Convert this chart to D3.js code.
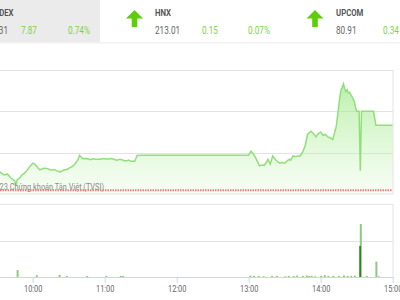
<!DOCTYPE html>
<html lang="vi">
<head>
<meta charset="UTF-8">
<title>VNINDEX intraday</title>
<script src="https://d3js.org/d3.v7.min.js"></script>
<style>
    body { margin: 0; background: #fff; font-family: Roboto, "Noto Sans", sans-serif; }
    svg { display: block; }
</style>
</head>
<body>
<div id="chart"></div>
<script>
    // Header boxes
    const indexNames = ["VNINDEX", "HNX", "UPCOM"];
    const indexValues = ["1071.31", "213.01", "80.91"];
    const indexChanges = ["7.87", "0.15", "0.34"];
    const indexPercents = ["0.74%", "0.07%", "0.42%"];

    // Intraday VNINDEX (minute, points)
    const priceTimes = ["09:15","09:20","09:25","09:30","09:33","09:36","09:39","09:42","09:45","09:46","09:47","09:49","09:51","09:53","09:55","09:58",
        "10:00","10:02","10:04","10:06","10:09","10:12","10:15","10:18","10:20","10:23","10:26","10:29","10:31","10:33","10:35","10:37","10:38","10:39","10:40","10:42","10:45","10:48","10:50","10:53","10:56","10:59",
        "11:02","11:05","11:07","11:10","11:13","11:16","11:18","11:20","11:22","11:25","11:26","11:27","11:29","11:30",
        "13:00","13:02","13:03","13:05","13:07","13:09","13:11","13:13","13:15","13:16","13:17","13:18","13:19","13:20","13:22","13:24","13:26","13:28","13:30","13:32","13:34","13:35","13:37","13:39","13:41","13:43","13:45","13:47","13:48","13:49","13:52","13:54","13:56","13:58",
        "14:00","14:02","14:04","14:06","14:08","14:10","14:11","14:13","14:14","14:15","14:16","14:17","14:18","14:19","14:20","14:21","14:22","14:23","14:24","14:26","14:27","14:28","14:29","14:30","14:32","14:33","14:34","14:44","14:46","15:00"];
    const priceValues = [1064.6,1065.3,1066.0,1065.8,1065.64,1065.3,1065.4,1064.9,1064.6,1064.0,1064.7,1064.9,1065.3,1065.5,1065.8,1066.4,
        1066.72,1066.6,1066.2,1065.92,1066.1,1066.08,1065.9,1065.95,1065.8,1065.68,1065.9,1066.0,1066.2,1066.32,1066.6,1067.0,1067.2,1067.68,1067.5,1067.28,1067.3,1067.15,1067.25,1067.2,1067.2,1067.3,
        1067.2,1067.28,1067.24,1067.1,1067.2,1067.05,1067.0,1067.1,1066.95,1066.96,1067.3,1067.68,1067.65,1067.7,
        1067.7,1068.2,1068.0,1067.6,1067.0,1066.4,1066.5,1066.48,1066.9,1067.2,1066.9,1066.6,1067.1,1067.6,1067.2,1066.9,1066.72,1066.8,1066.72,1067.0,1067.2,1067.1,1067.6,1067.5,1067.6,1067.6,1068.1,1068.8,1069.5,1070.2,1070.6,1070.3,1069.92,1070.3,
        1070.48,1070.1,1070.2,1069.9,1069.8,1069.6,1070.1,1071.2,1072.4,1073.6,1074.8,1075.6,1075.9,1076.32,1075.7,1075.4,1075.6,1075.2,1075.3,1074.8,1074.5,1074.2,1073.5,1073.0,1073.0,1065.8,1073.0,1073.0,1071.31,1071.31];
    const referencePrice = 1063.44;
    const priceTicks = [1063, 1068, 1073, 1078];

    // Matched volume (million shares)
    const volumeTimes = ["09:47","10:03","10:22","10:28","10:45","11:01","11:13","11:15",
        "13:01","13:04","13:08","13:12","13:19","13:23","13:30","13:33","13:37","13:40","13:45","13:48","13:50","13:52","13:55",
        "14:00","14:03","14:06","14:10","14:15","14:19","14:22","14:25","14:28","14:33","14:38","14:46","14:48"];
    const volumeValues = [1.9,0.5,0.6,0.3,0.3,0.3,0.3,0.3,
        0.4,0.3,0.3,0.2,0.3,0.3,0.2,0.3,0.3,0.4,0.3,0.4,0.3,0.3,0.2,
        0.3,0.5,0.3,0.3,0.3,0.4,0.3,0.3,0.4,14.5,0.3,4.2,0.2];
    const putThroughTimes = ["14:33"];
    const putThroughValues = [8.5];
    const volumeTicks = [0, 10, 20];
    const hourTicks = ["10:00","11:00","12:00","13:00","14:00","15:00"];

    const width = 400, height = 300;
    const parse = d3.timeParse("%H:%M");
    const squeeze = "scale(0.82,1)";

    const svg = d3.select("#chart").append("svg")
        .attr("width", width)
        .attr("height", height);

    // scales (plot starts at 09:00, left of the visible window)
    const x = d3.scaleTime()
        .domain([parse("09:00"), parse("15:00")])
        .range([-39.3, 392.7]);
    const y = d3.scaleLinear().domain([1063, 1078]).range([194, 70]);
    const yVol = d3.scaleLinear().domain([0, 20]).range([277, 204]);

    // ---- header ----
    svg.append("rect").attr("x", 0).attr("y", 0).attr("width", 100).attr("height", 42).attr("fill", "#ebebeb");
    svg.append("rect").attr("x", 0).attr("y", 42).attr("width", width).attr("height", 1.5).attr("fill", "#f1f1f1");

    function label(px, py, str, size, color, weight, anchor) {
        svg.append("text")
            .attr("transform", `translate(${px},${py}) ${squeeze}`)
            .attr("font-size", size)
            .attr("font-weight", weight || "normal")
            .attr("fill", color)
            .attr("text-anchor", anchor || "start")
            .text(str);
    }

    const boxes = [
        { nameX: 13.5, anchor: "end", valX: 8, chgX: 21, pctX: 68, arrow: null },
        { nameX: 155, anchor: "start", valX: 155, chgX: 202, pctX: 248, arrow: 134.5 },
        { nameX: 336, anchor: "start", valX: 336, chgX: 383, pctX: 429, arrow: 315 }
    ];
    const green = "#7ed33c";
    boxes.forEach((b, i) => {
        label(b.nameX, 15.5, indexNames[i], 9.5, "#555", "bold", b.anchor);
        label(b.valX, 34.3, indexValues[i], 10, "#666", "normal", b.anchor);
        label(b.chgX, 34.3, indexChanges[i], 10, green);
        label(b.pctX, 34.3, indexPercents[i], 10, green);
        if (b.arrow !== null) {
            const c = b.arrow;
            svg.append("path")
                .attr("d", `M${c},10 L${c + 8.5},18.5 L${c + 2.8},18.5 L${c + 2.8},27 L${c - 2.8},27 L${c - 2.8},18.5 L${c - 8.5},18.5 Z`)
                .attr("fill", "#5ccf0a");
        }
    });

    // ---- price chart ----
    const prices = priceTimes.map((t, i) => ({ t: parse(t), v: priceValues[i] }));

    svg.append("g")
        .selectAll("line")
        .data(priceTicks.slice(1))
        .join("line")
        .attr("x1", -40).attr("x2", 393)
        .attr("y1", d => Math.round(y(d)) + 0.5)
        .attr("y2", d => Math.round(y(d)) + 0.5)
        .attr("stroke", "#e3e3e3");

    const grad = svg.append("defs").append("linearGradient")
        .attr("id", "fillGrad")
        .attr("gradientUnits", "userSpaceOnUse")
        .attr("x1", 0).attr("x2", 0).attr("y1", 70).attr("y2", 194);
    grad.append("stop").attr("offset", "0%").attr("stop-color", "#9ee888").attr("stop-opacity", 0.8);
    grad.append("stop").attr("offset", "100%").attr("stop-color", "#c8f3b8").attr("stop-opacity", 0.15);

    svg.append("path")
        .datum(prices)
        .attr("fill", "url(#fillGrad)")
        .attr("d", d3.area().x(d => x(d.t)).y0(y(1063)).y1(d => y(d.v)));

    svg.append("path")
        .datum(prices)
        .attr("fill", "none")
        .attr("stroke", "#90e07a")
        .attr("stroke-width", 1.5)
        .attr("d", d3.line().x(d => x(d.t)).y(d => y(d.v)));

    svg.append("text")
        .attr("transform", `translate(104,189.5) ${squeeze}`)
        .attr("text-anchor", "end")
        .attr("font-size", 9)
        .attr("fill", "#8a8a8a")
        .text("© 2023 Chứng khoán Tân Việt (TVSI)");

    svg.append("line")
        .attr("x1", -40).attr("x2", 392.5)
        .attr("y1", y(referencePrice)).attr("y2", y(referencePrice))
        .attr("stroke", "#f07a7a")
        .attr("stroke-width", 2)
        .attr("stroke-dasharray", "1.5,1");

    // frame
    svg.append("rect")
        .attr("x", -40).attr("y", 70.5).attr("width", 433).attr("height", 123.5)
        .attr("fill", "none").attr("stroke", "#e3e3e3");

    // ---- volume chart ----
    svg.append("g")
        .selectAll("line")
        .data(volumeTicks.slice(1))
        .join("line")
        .attr("x1", -40).attr("x2", 393)
        .attr("y1", d => Math.round(yVol(d)) + 0.5)
        .attr("y2", d => Math.round(yVol(d)) + 0.5)
        .attr("stroke", "#e3e3e3");
    svg.append("line")
        .attr("x1", 393).attr("x2", 393).attr("y1", 204).attr("y2", 277)
        .attr("stroke", "#e3e3e3");

    const vols = volumeTimes.map((t, i) => ({ t: parse(t), v: volumeValues[i] }));
    svg.append("g")
        .selectAll("rect")
        .data(vols)
        .join("rect")
        .attr("x", d => x(d.t) - 0.5)
        .attr("width", 2)
        .attr("y", d => yVol(d.v))
        .attr("height", d => yVol(0) - yVol(d.v))
        .attr("fill", "#8fc97e");

    const puts = putThroughTimes.map((t, i) => ({ t: parse(t), v: putThroughValues[i] }));
    svg.append("g")
        .selectAll("rect")
        .data(puts)
        .join("rect")
        .attr("x", d => x(d.t) - 1)
        .attr("width", 1.6)
        .attr("y", d => yVol(d.v))
        .attr("height", d => yVol(0) - yVol(d.v))
        .attr("fill", "#1f7d12");

    const xAxis = svg.append("g")
        .attr("transform", `translate(0,${yVol(0)})`)
        .call(d3.axisBottom(x)
            .tickValues(hourTicks.map(parse))
            .tickFormat(d3.timeFormat("%H:%M"))
            .tickSize(6)
            .tickSizeOuter(0));
    xAxis.select(".domain").attr("stroke", "#ccd6eb");
    xAxis.selectAll(".tick line").attr("stroke", "#ccd6eb");
    xAxis.selectAll(".tick text")
        .attr("fill", "#666")
        .attr("font-size", 9)
        .attr("font-family", "Roboto, sans-serif")
        .attr("y", 9)
        .attr("transform", squeeze);
</script>
</body>
</html>
